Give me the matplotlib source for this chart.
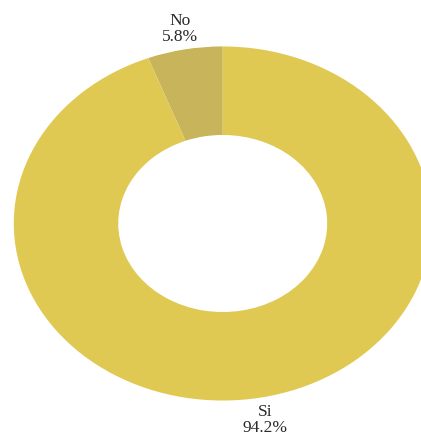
import matplotlib
matplotlib.use('Agg')
import matplotlib.pyplot as plt

# answer shares (percent)
categories = ['No', 'Si']
shares = [5.8, 94.2]
colors = ['#C8B45A', '#E0C952']

fig = plt.figure(figsize=(4.21, 4.35), dpi=100)
ax = fig.add_axes([0, 0, 1, 1])

labels = ['%s\n%.1f%%' % (c, v) for c, v in zip(categories, shares)]
wedges, texts = ax.pie(shares, labels=labels, colors=colors, startangle=90,
                       counterclock=True, labeldistance=1.12,
                       wedgeprops=dict(width=0.5, linewidth=0),
                       textprops=dict(family=['Liberation Serif', 'DejaVu Serif'],
                                      fontsize=12.5, color='#2a2a2a',
                                      linespacing=1.0))
for t in texts:
    t.set_ha('center')
    t.set_va('center')

# donut is stretched wider than tall and runs off the right edge
ax.set_aspect('auto')
ax.set_xlim(-1.066, 0.949)
ax.set_ylim(-1.189, 1.268)

fig.savefig('out.png', dpi=100, facecolor='white')
